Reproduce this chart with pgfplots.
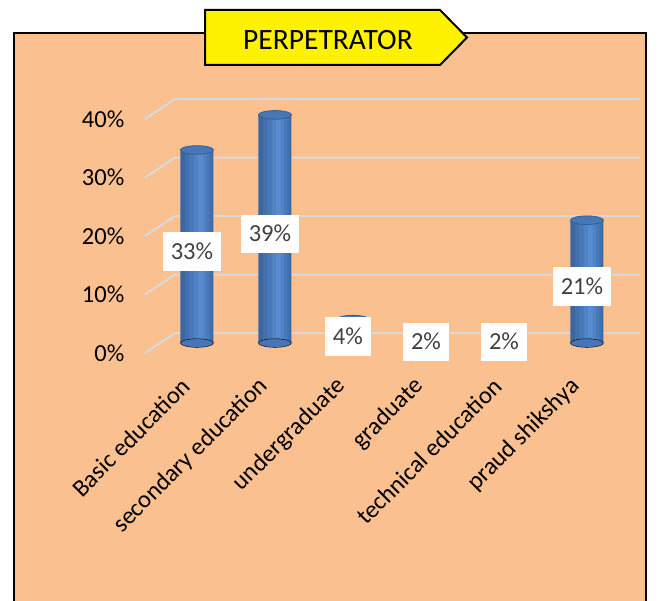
\documentclass[border=0pt]{standalone}
\usepackage{pgfplots}
\usepackage{pgfplotstable}
\pgfplotsset{compat=1.18}
\usepackage{fontspec}
\setmainfont{Carlito}

\definecolor{peach}{HTML}{FAC090}
\definecolor{gridc}{HTML}{D9D9D9}
\definecolor{cyl1}{HTML}{3A66A1}
\definecolor{cyl2}{HTML}{4170AD}
\definecolor{cyl3}{HTML}{4979B9}
\definecolor{cyl4}{HTML}{5083C6}
\definecolor{cyl5}{HTML}{578CD1}
\definecolor{cylBase}{HTML}{4676B5}
\definecolor{cylTop}{HTML}{4677B7}
\definecolor{cylEdge}{HTML}{345F97}
\definecolor{lbl}{HTML}{404040}

% elliptic caps of the cylinders
\pgfdeclareplotmark{cylcap}{%
  \pgfpathellipse{\pgfpointorigin}{\pgfqpoint{16.5pt}{0pt}}{\pgfqpoint{0pt}{4.3pt}}%
  \pgfusepathqfillstroke}

\pgfplotstableread{
x val
0 33
1 39
2 4
3 2
4 2
5 21
}\perpdata

\pgfplotsset{cylbody/.style={ybar, draw=none, forget plot}}

\begin{document}
\begin{tikzpicture}[x=1pt,y=1pt]
\useasboundingbox (0,0) rectangle (660,601);
\fill[peach] (14,0) rectangle (646,568);
\draw[black, line width=1.8pt] (14,0) -- (14,568) -- (646,568) -- (646,0);

\begin{axis}[
  at={(140.8pt,240.4pt)}, anchor=south west, scale only axis,
  width=500.76pt, height=263.25pt,
  xmin=-0.72, xmax=5.7, ymin=-3, ymax=42,
  clip=false,
  axis line style={draw=none}, tick style={draw=none},
  xtick={0,...,5},
  xticklabels={Basic education, secondary education, undergraduate, graduate, technical education, praud shikshya},
  xticklabel style={font=\fontsize{24.5}{28}\selectfont, inner sep=0pt, xshift=-11pt, yshift=-22pt, rotate=45, anchor=east},
  ytick={0,10,20,30,40},
  yticklabel={\pgfmathprintnumber{\tick}\%},
  yticklabel style={font=\fontsize{24.5}{28}\selectfont, xshift=-13pt, yshift=-10pt},
  /pgf/number format/assume math mode=true,
]
% gridlines with their short receding part on the left
\addplot[gridc, line width=2pt] coordinates {(-0.667,-1.71) (-0.282,1.71) (5.68,1.71)};
\addplot[gridc, line width=2pt] coordinates {(-0.667,8.29) (-0.282,11.71) (5.68,11.71)};
\addplot[gridc, line width=2pt] coordinates {(-0.667,18.29) (-0.282,21.71) (5.68,21.71)};
\addplot[gridc, line width=2pt] coordinates {(-0.667,28.29) (-0.282,31.71) (5.68,31.71)};
\addplot[gridc, line width=2pt] coordinates {(-0.667,38.29) (-0.282,41.71) (5.68,41.71)};

% cylinders: rounded base, body built from nested strips (dark rim, light core), top face
\addplot[only marks, mark=cylcap, mark options={fill=cylBase, draw=none}] table[x=x, y expr=0] {\perpdata};
\addplot[cylbody, fill=cyl1, bar width=33pt, bar shift=0pt] table[x=x, y=val] {\perpdata};
\addplot[cylbody, fill=cyl2, bar width=27pt, bar shift=1.5pt] table[x=x, y=val] {\perpdata};
\addplot[cylbody, fill=cyl3, bar width=20pt, bar shift=2.5pt] table[x=x, y=val] {\perpdata};
\addplot[cylbody, fill=cyl4, bar width=12pt, bar shift=3pt] table[x=x, y=val] {\perpdata};
\addplot[cylbody, fill=cyl5, bar width=5pt, bar shift=3.5pt] table[x=x, y=val] {\perpdata};
\addplot[only marks, mark=cylcap, mark options={fill=cylTop, draw=cylEdge, line width=0.8pt}] table[x=x, y=val] {\perpdata};

% value labels
\addplot[draw=none, mark=none, point meta=explicit,
  nodes near coords={\pgfmathprintnumber{\pgfplotspointmeta}\%},
  nodes near coords style={anchor=center, fill=white, text=lbl,
    font=\fontsize{24.5}{28}\selectfont, text height=15.5pt, text depth=0pt,
    inner xsep=8pt, inner ysep=11.5pt, xshift=-5pt, yshift=-5pt}]
  table[x=x, y expr=\thisrow{val}/2, meta=val] {\perpdata};
\end{axis}

% title tag
\draw[fill=yellow, line width=2pt] (205,591) -- (440,591) -- (467,563.5) -- (440,536) -- (205,536) -- cycle;
\node[font=\fontsize{29.5}{34}\selectfont] at (328,561) {PERPETRATOR};
\end{tikzpicture}
\end{document}
